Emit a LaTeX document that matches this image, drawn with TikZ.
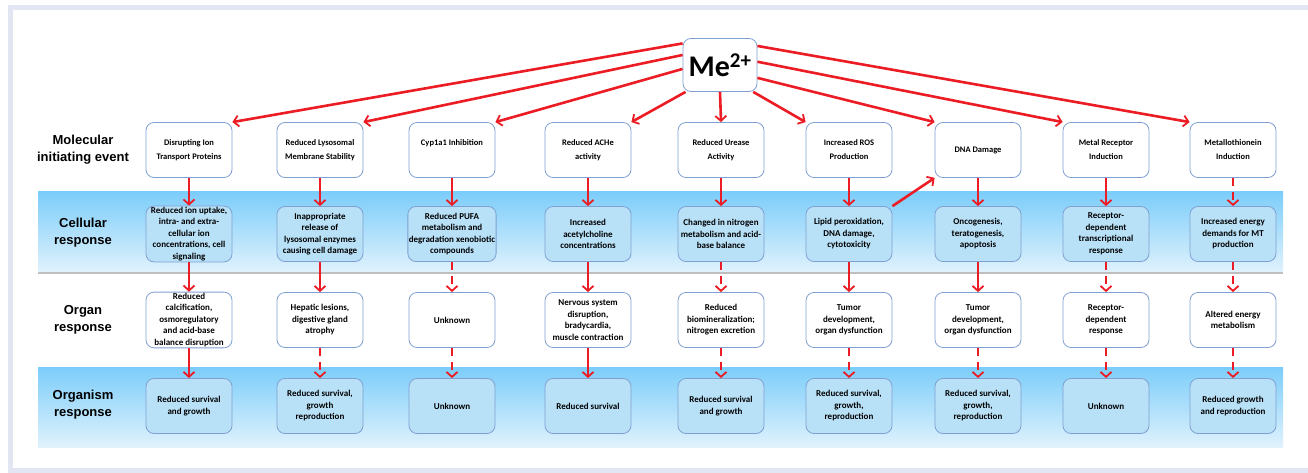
\documentclass[tikz,border=0pt]{standalone}
\usepackage{fontspec}
\usetikzlibrary{arrows.meta}
\newfontfamily\boxfont{Carlito}
\newfontfamily\sidefont{Liberation Sans}
\definecolor{arrowred}{RGB}{236,28,36}
\definecolor{boxline}{RGB}{128,160,210}
\definecolor{bandtop}{RGB}{124,205,250}
\definecolor{bandbot}{RGB}{224,242,252}
\definecolor{bandfill}{RGB}{184,225,248}
\definecolor{panel}{RGB}{226,230,243}
\tikzset{event/.style={draw=boxline,line width=0.8pt,rounded corners=8pt,fill=white,minimum width=86pt,minimum height=55pt,inner sep=1pt,align=center,font=\boxfont\bfseries\fontsize{9}{11.5}\selectfont},
         mie/.style={event,font=\boxfont\bfseries\fontsize{8.5}{14}\selectfont},
         inband/.style={event,fill=bandfill},
         rowlabel/.style={align=center,font=\sidefont\bfseries\fontsize{13}{17}\selectfont},
         effect/.style={draw=arrowred,line width=2.6pt,-{Straight Barb[length=5pt,width=11pt,line width=1.8pt]}},
         weak/.style={effect,dash pattern=on 8pt off 6pt},
        }
\begin{document}
\begin{tikzpicture}[x=1pt,y=-1pt]
        \useasboundingbox(0,0)rectangle(1308,473);
        \fill[panel](8,5)rectangle(1308,10);
        \fill[panel](8,5)rectangle(13,473);
        \fill[panel](8,468)rectangle(1308,473);
        \fill[top color=bandtop,bottom color=bandbot](38,192)rectangle(1283,272);
        \fill[black!25](38,272)rectangle(1283,274);
        \fill[top color=bandtop,bottom color=bandbot](38,367)rectangle(1283,447);

        \node[rowlabel](l1)at(83,150){Molecular\\initiating event};
        \node[rowlabel](l2)at(83,233){Cellular\\response};
        \node[rowlabel](l3)at(83,320){Organ\\response};
        \node[rowlabel](l4)at(83,405){Organism\\response};

        \node[event,minimum width=74pt,minimum height=53pt,font=\boxfont\bfseries\fontsize{30}{30}\selectfont](me)at(720,65){Me\textsuperscript{2+}};

        \node[mie](m1)at(189,150){Disrupting Ion\\Transport Proteins};
        \node[mie](m2)at(320,150){Reduced Lysosomal\\Membrane Stability};
        \node[mie](m3)at(452,150){Cyp1a1 Inhibition\\~};
        \node[mie](m4)at(588,150){Reduced ACHe\\activity};
        \node[mie](m5)at(721,150){Reduced Urease\\Activity};
        \node[mie](m6)at(849,150){Increased ROS\\Production};
        \node[mie](m7)at(978,150){DNA Damage};
        \node[mie](m8)at(1106,150){Metal Receptor\\Induction};
        \node[mie](m9)at(1233,150){Metallothionein\\Induction};

        \node[inband](c1)at(189,234){Reduced ion uptake,\\intra- and extra-\\cellular ion\\concentrations, cell\\signaling};
        \node[inband](c2)at(320,234){Inappropriate\\release of\\lysosomal enzymes\\causing cell damage};
        \node[inband](c3)at(452,234){Reduced PUFA\\metabolism and\\degradation xenobiotic\\compounds};
        \node[inband](c4)at(588,234){Increased\\acetylcholine\\concentrations};
        \node[inband](c5)at(721,234){Changed in nitrogen\\metabolism and acid-\\base balance};
        \node[inband](c6)at(849,234){Lipid peroxidation,\\DNA damage,\\cytotoxicity};
        \node[inband](c7)at(978,234){Oncogenesis,\\teratogenesis,\\apoptosis};
        \node[inband](c8)at(1106,234){Receptor-\\dependent\\transcriptional\\response};
        \node[inband](c9)at(1233,234){Increased energy\\demands for MT\\production};

        \node[event](o1)at(189,320){Reduced\\calcification,\\osmoregulatory\\and acid-base\\balance disruption};
        \node[event](o2)at(320,320){Hepatic lesions,\\digestive gland\\atrophy};
        \node[event](o3)at(452,320){Unknown};
        \node[event](o4)at(588,320){Nervous system\\disruption,\\bradycardia,\\muscle contraction};
        \node[event](o5)at(721,320){Reduced\\biomineralization;\\nitrogen excretion};
        \node[event](o6)at(849,320){Tumor\\development,\\organ dysfunction};
        \node[event](o7)at(978,320){Tumor\\development,\\organ dysfunction};
        \node[event](o8)at(1106,320){Receptor-\\dependent\\response};
        \node[event](o9)at(1233,320){Altered energy\\metabolism};

        \node[inband](s1)at(189,406){Reduced survival\\and growth};
        \node[inband](s2)at(320,406){Reduced survival,\\growth\\reproduction};
        \node[inband](s3)at(452,406){Unknown};
        \node[inband](s4)at(588,406){Reduced survival};
        \node[inband](s5)at(721,406){Reduced survival\\and growth};
        \node[inband](s6)at(849,406){Reduced survival,\\growth,\\reproduction};
        \node[inband](s7)at(978,406){Reduced survival,\\growth,\\reproduction};
        \node[inband](s8)at(1106,406){Unknown};
        \node[inband](s9)at(1233,406){Reduced growth\\and reproduction};

        \draw[effect](me.150)--(m1.north east);
        \draw[effect](me.165)--(m2.north east);
        \draw[effect](me.186)--(m3.north east);
        \draw[effect](me.218)--(m4.north east);
        \draw[effect](me.south)--(m5.north);
        \draw[effect](me.321)--(m6.north west);
        \draw[effect](me.341)--(m7.north west);
        \draw[effect](me.5)--(m8.north west);
        \draw[effect](me.27)--(m9.north west);

        \draw[effect](m1)--(c1);
        \draw[effect](m2)--(c2);
        \draw[effect](m3)--(c3);
        \draw[effect](m4)--(c4);
        \draw[effect](m5)--(c5);
        \draw[effect](m6)--(c6);
        \draw[effect](m7)--(c7);
        \draw[effect](m8)--(c8);
        \draw[weak](m9)--(c9);
        \draw[effect](c6.north east)--(m7.south west);

        \draw[effect](c1)--(o1);
        \draw[effect](c2)--(o2);
        \draw[weak](c3)--(o3);
        \draw[effect](c4)--(o4);
        \draw[weak](c5)--(o5);
        \draw[effect](c6)--(o6);
        \draw[effect](c7)--(o7);
        \draw[weak](c8)--(o8);
        \draw[weak](c9)--(o9);

        \draw[effect](o1)--(s1);
        \draw[weak](o2)--(s2);
        \draw[weak](o3)--(s3);
        \draw[effect](o4)--(s4);
        \draw[weak](o5)--(s5);
        \draw[weak](o6)--(s6);
        \draw[weak](o7)--(s7);
        \draw[weak](o8)--(s8);
        \draw[weak](o9)--(s9);
    \end{tikzpicture}
\end{document}
